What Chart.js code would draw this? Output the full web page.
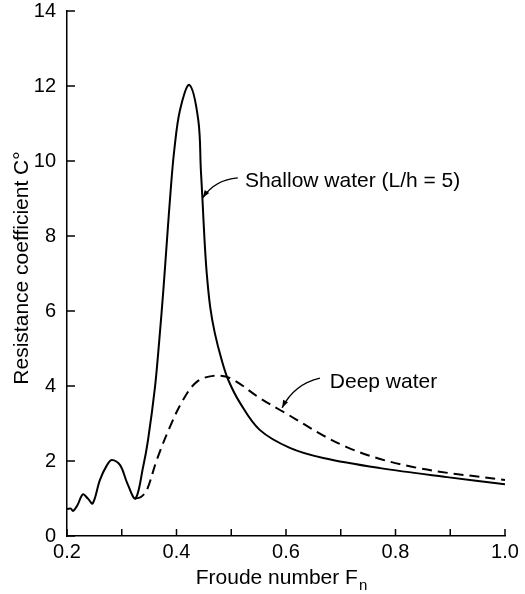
<!DOCTYPE html>
<html>
<head>
<meta charset="utf-8">
<script src="https://cdn.jsdelivr.net/npm/chart.js@4.4.1/dist/chart.umd.min.js"></script>
<style>
  html, body { margin: 0; padding: 0; background: #fff; }
  #wrap { width: 525px; height: 594px; }
</style>
</head>
<body>
<div id="wrap"><canvas id="c" width="525" height="594"></canvas></div>
<script>
// Shallow water (L/h = 5) curve
const shallowX = [0.200, 0.207, 0.211, 0.219, 0.229, 0.238, 0.247, 0.260, 0.273, 0.282, 0.297, 0.310, 0.325,
  0.339, 0.348, 0.3607, 0.3686, 0.376, 0.3826, 0.3894, 0.396, 0.4064, 0.4234, 0.4398,
  0.4445, 0.4478, 0.4512, 0.4552, 0.4615, 0.4700, 0.4826, 0.4946, 0.516, 0.552, 0.607, 0.668, 0.772, 0.894, 1.000];
const shallowY = [0.72, 0.73, 0.67, 0.82, 1.11, 1.00, 0.87, 1.49, 1.89, 2.03, 1.89, 1.41, 1.00,
  1.84, 2.56, 3.97, 5.23, 6.56, 7.89, 9.23, 10.30, 11.36, 12.03, 11.09,
  9.76, 8.87, 7.89, 7.01, 6.11, 5.41, 4.69, 4.16, 3.55, 2.83, 2.35, 2.08, 1.81, 1.57, 1.38];

// Deep water curve
const deepX = [0.325, 0.335, 0.346, 0.364, 0.388, 0.412, 0.437, 0.467, 0.498, 0.552, 0.589, 0.711, 0.832, 1.000];
const deepY = [1.00, 1.04, 1.23, 2.03, 2.91, 3.63, 4.11, 4.27, 4.21, 3.68, 3.36, 2.37, 1.84, 1.49];

const xMin = 0.2, xMax = 1.0, xStep = 0.1;
const yMin = 0, yMax = 14, yStep = 2;

const FONT = '"Liberation Sans", Arial, sans-serif';

function pts(xs, ys) {
  return xs.map((x, i) => ({ x: x, y: ys[i] }));
}

// labels with curved leader arrows (data coords)
const notes = [
  { text: "Shallow water (L/h = 5)", tx: 0.525, ty: 9.47, from: [0.512, 9.55], ctrl: [0.47, 9.5], to: [0.448, 9.02] },
  { text: "Deep water", tx: 0.680, ty: 4.10, from: [0.662, 4.21], ctrl: [0.615, 4.05], to: [0.593, 3.42] }
];

const overlay = {
  id: "overlay",
  afterDraw(chart) {
    const ctx = chart.ctx;
    const xs = chart.scales.x, ys = chart.scales.y;
    const area = chart.chartArea;
    ctx.save();
    ctx.strokeStyle = "#000";
    ctx.fillStyle = "#000";
    ctx.lineWidth = 1.5;

    // inward tick marks
    ctx.beginPath();
    xs.ticks.forEach(t => {
      const px = xs.getPixelForValue(t.value);
      ctx.moveTo(px, area.bottom);
      ctx.lineTo(px, area.bottom - 7);
    });
    ys.ticks.forEach(t => {
      const py = ys.getPixelForValue(t.value);
      ctx.moveTo(area.left, py);
      ctx.lineTo(area.left + 8, py);
    });
    ctx.stroke();

    // annotations
    ctx.font = "21px " + FONT;
    ctx.textBaseline = "middle";
    ctx.textAlign = "left";
    notes.forEach(n => {
      ctx.fillText(n.text, xs.getPixelForValue(n.tx), ys.getPixelForValue(n.ty));
      const fx = xs.getPixelForValue(n.from[0]), fy = ys.getPixelForValue(n.from[1]);
      const cx = xs.getPixelForValue(n.ctrl[0]), cy = ys.getPixelForValue(n.ctrl[1]);
      const tx = xs.getPixelForValue(n.to[0]), ty = ys.getPixelForValue(n.to[1]);
      ctx.lineWidth = 1.5;
      ctx.beginPath();
      ctx.moveTo(fx, fy);
      ctx.quadraticCurveTo(cx, cy, tx, ty);
      ctx.stroke();
      const ang = Math.atan2(ty - cy, tx - cx);
      ctx.beginPath();
      ctx.moveTo(tx, ty);
      ctx.lineTo(tx - 8 * Math.cos(ang - 0.35), ty - 8 * Math.sin(ang - 0.35));
      ctx.lineTo(tx - 8 * Math.cos(ang + 0.35), ty - 8 * Math.sin(ang + 0.35));
      ctx.closePath();
      ctx.fill();
    });

    // x axis title with subscript
    ctx.textBaseline = "alphabetic";
    const main = "Froude number F";
    ctx.font = "21px " + FONT;
    const w1 = ctx.measureText(main).width;
    ctx.font = "15px " + FONT;
    const w2 = ctx.measureText("n").width;
    const startX = 281 - (w1 + w2) / 2;
    ctx.font = "21px " + FONT;
    ctx.fillText(main, startX, 584);
    ctx.font = "15px " + FONT;
    ctx.fillText("n", startX + w1 + 1, 590);

    // y axis title
    ctx.translate(28, 268);
    ctx.rotate(-Math.PI / 2);
    ctx.textAlign = "center";
    ctx.font = "21px " + FONT;
    ctx.fillText("Resistance coefficient C\u00B0", 0, 0);
    ctx.restore();
  }
};

new Chart(document.getElementById("c"), {
  type: "line",
  data: {
    datasets: [
      {
        label: "Shallow water (L/h = 5)",
        data: pts(shallowX, shallowY),
        borderColor: "#000",
        borderWidth: 2,
        pointRadius: 0,
        tension: 0.35,
        fill: false
      },
      {
        label: "Deep water",
        data: pts(deepX, deepY),
        borderColor: "#000",
        borderWidth: 2,
        borderDash: [10, 6],
        pointRadius: 0,
        tension: 0.35,
        fill: false
      }
    ]
  },
  options: {
    responsive: false,
    animation: false,
    events: [],
    layout: { padding: { top: 11, right: 20, left: 0, bottom: 0 } },
    plugins: {
      legend: { display: false },
      tooltip: { enabled: false }
    },
    scales: {
      x: {
        type: "linear",
        min: xMin,
        max: xMax,
        grid: { display: false, drawTicks: false },
        border: { display: true, color: "#000", width: 1.5 },
        ticks: {
          stepSize: xStep,
          color: "#000",
          padding: 4,
          maxRotation: 0,
          font: { family: FONT, size: 20 },
          callback: v => (Math.round(v * 10) % 2 === 0 ? v.toFixed(1) : "")
        },
        afterFit: s => { s.height = 58; s.paddingLeft = 0; s.paddingRight = 0; }
      },
      y: {
        min: yMin,
        max: yMax,
        grid: { display: false, drawTicks: false },
        border: { display: true, color: "#000", width: 1.5 },
        ticks: {
          stepSize: yStep,
          color: "#000",
          padding: 11,
          font: { family: FONT, size: 20 }
        },
        afterFit: s => { s.width = 67; s.paddingTop = 0; s.paddingBottom = 0; }
      }
    }
  },
  plugins: [overlay]
});
</script>
</body>
</html>
